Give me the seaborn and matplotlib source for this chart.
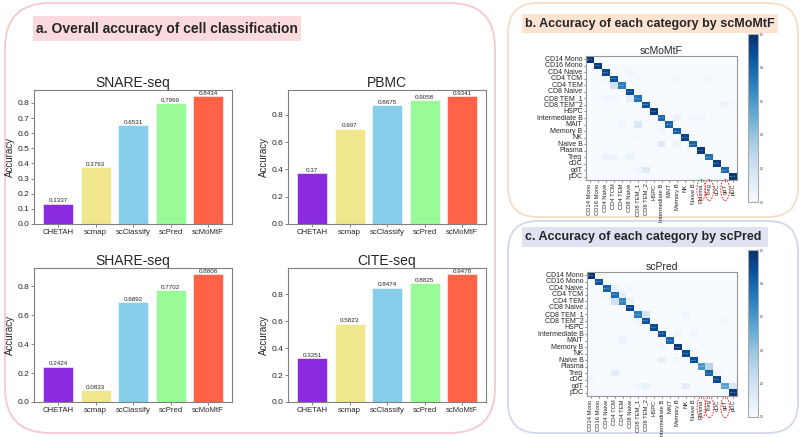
import matplotlib
matplotlib.use("Agg")
import matplotlib.pyplot as plt
import matplotlib.transforms as mtransforms
from matplotlib.patches import FancyBboxPatch, Rectangle, Ellipse
import numpy as np
import seaborn as sns

# Bar chart data (panel a)
METHODS = ["CHETAH", "scmap", "scClassify", "scPred", "scMoMtF"]
BAR_COLORS = ["#8a2be2", "#f0e68c", "#87ceeb", "#98fb98", "#ff6347"]
snare_acc = [0.1337, 0.3763, 0.6531, 0.7999, 0.8434]
pbmc_acc = [0.37, 0.697, 0.8675, 0.9058, 0.9341]
share_acc = [0.2424, 0.0833, 0.6892, 0.7702, 0.8806]
cite_acc = [0.3251, 0.5823, 0.8474, 0.8825, 0.9478]

# Confusion matrices (panels b, c) - estimated from colour
CELL_TYPES = ["CD14 Mono", "CD16 Mono", "CD4 Naive", "CD4 TCM", "CD4 TEM", "CD8 Naive",
              "CD8 TEM_1", "CD8 TEM_2", "HSPC", "Intermediate B", "MAIT", "Memory B",
              "NK", "Naive B", "Plasma", "Treg", "cDC", "gdT", "pDC"]
momtf_diag = [0.97, 0.95, 0.90, 0.86, 0.70, 0.88, 0.74, 0.85, 0.95, 0.78,
              0.80, 0.82, 0.92, 0.80, 0.96, 0.75, 0.93, 0.78, 0.97]
momtf_off = [(2, 5, 0.05), (3, 2, 0.04), (3, 6, 0.02), (3, 11, 0.03), (3, 15, 0.03),
             (4, 3, 0.20), (6, 2, 0.03), (6, 3, 0.03), (6, 5, 0.10), (7, 17, 0.06),
             (9, 11, 0.06), (9, 13, 0.03), (9, 14, 0.03), (10, 4, 0.04), (10, 6, 0.15),
             (11, 9, 0.03), (12, 6, 0.02), (13, 9, 0.12), (13, 11, 0.05),
             (15, 2, 0.06), (15, 3, 0.06), (15, 5, 0.07), (17, 6, 0.03), (17, 7, 0.12)]
scpred_diag = [0.97, 0.86, 0.80, 0.76, 0.68, 0.90, 0.70, 0.85, 0.90, 0.88,
               0.80, 0.95, 0.90, 0.88, 0.60, 0.80, 0.90, 0.55, 0.95]
scpred_off = [(2, 3, 0.08), (2, 5, 0.03), (3, 2, 0.04), (3, 4, 0.10), (4, 3, 0.20),
              (4, 5, 0.08), (5, 6, 0.03), (6, 7, 0.18), (6, 12, 0.04), (7, 6, 0.05),
              (7, 17, 0.03), (9, 11, 0.05), (9, 13, 0.05), (10, 4, 0.06), (11, 9, 0.03),
              (12, 13, 0.03), (13, 9, 0.08), (13, 11, 0.04), (14, 15, 0.30),
              (15, 3, 0.10), (15, 16, 0.05), (16, 0, 0.03), (17, 6, 0.04),
              (17, 7, 0.08), (17, 12, 0.10), (17, 18, 0.15)]
CIRCLED = ["Plasma", "Treg", "gdT"]

W, H = 800, 437

sns.set_style("ticks")
plt.rcParams["font.family"] = ["Liberation Sans", "DejaVu Sans"]

fig = plt.figure(figsize=(W / 100, H / 100), dpi=100)


def rect(l, t, r, b):
    """Pixel box (top-left origin) -> figure fraction"""
    return [l / W, 1 - b / H, (r - l) / W, (b - t) / H]


def box(l, t, r, b, ec, rad, lw=1.3):
    p = FancyBboxPatch((l / 100, (H - b) / 100), (r - l) / 100, (b - t) / 100,
                       boxstyle=f"round,pad=0,rounding_size={rad / 100}",
                       transform=fig.dpi_scale_trans, fill=False, ec=ec, lw=lw, zorder=-2)
    fig.add_artist(p)


def title_box(l, t, r, b, fc, text, size):
    fig.add_artist(Rectangle((l / 100, (H - b) / 100), (r - l) / 100, (b - t) / 100,
                             transform=fig.dpi_scale_trans, fc=fc, ec="none", zorder=-1))
    fig.text((l + 3) / 100, (H - (t + b) / 2) / 100, text, transform=fig.dpi_scale_trans,
             fontsize=size, fontweight="bold", va="center", ha="left")


# Panel frames
box(5, 3, 495, 433, "#f6c8ce", 45)
box(508, 3, 798, 217, "#f9dcc6", 30)
box(508, 221, 798, 433, "#d3d7ee", 30)
title_box(33, 16, 301, 41, "#fadadd", "a. Overall accuracy of cell classification", 10)
title_box(522, 14, 778, 33, "#fce3d2", "b. Accuracy of each category by scMoMtF", 9)
title_box(522, 227, 768, 247, "#dfe2f3", "c. Accuracy of each category by scPred", 9)


def bar_panel(pos, values, title, yticks):
    ax = fig.add_axes(rect(*pos))
    sns.barplot(x=METHODS, y=values, hue=METHODS, palette=BAR_COLORS, legend=False,
                saturation=1, width=0.8, edgecolor="white", linewidth=0.4, ax=ax)
    for cont, v in zip(ax.containers, values):
        ax.bar_label(cont, labels=[str(v)], fontsize=4.5, padding=0.3)
    ax.set_xlim(-0.64, 4.64)
    ax.set_ylim(0, max(values) * 1.05)
    ax.set_yticks(yticks)
    ax.set_title(title, fontsize=10, pad=2)
    ax.set_ylabel("Accuracy", fontsize=7, labelpad=2)
    ax.tick_params(axis="y", labelsize=6, length=2, width=0.5, pad=1.5, color="#555555")
    ax.tick_params(axis="x", labelsize=5.6, length=2, width=0.5, pad=1.5, color="#555555")
    for s in ax.spines.values():
        s.set_visible(True)
        s.set_color("#808080")
        s.set_linewidth(0.8)
    return ax


bar_panel((34, 90, 232, 224), snare_acc, "SNARE-seq", np.arange(0, 0.81, 0.1))
bar_panel((288, 90, 486, 224), pbmc_acc, "PBMC", np.arange(0, 0.81, 0.2))
bar_panel((34, 268, 232, 402), share_acc, "SHARE-seq", np.arange(0, 0.81, 0.2))
bar_panel((288, 268, 486, 402), cite_acc, "CITE-seq", np.arange(0, 0.81, 0.2))


def build_matrix(diag, off):
    m = np.zeros((len(CELL_TYPES), len(CELL_TYPES)))
    np.fill_diagonal(m, diag)
    for r, c, v in off:
        m[r, c] = v
    return m


def heat_panel(pos, cpos, diag, off, title, ell_y):
    ax = fig.add_axes(rect(*pos))
    cax = fig.add_axes(rect(*cpos))
    m = build_matrix(diag, off)
    annot = np.full(m.shape, "", dtype=object)
    for i, v in enumerate(diag):
        annot[i, i] = f"{v * 100:.2f}%"
    sns.heatmap(m, cmap="Blues", vmin=0, vmax=1, ax=ax, cbar_ax=cax,
                xticklabels=CELL_TYPES, yticklabels=CELL_TYPES,
                annot=annot, fmt="", annot_kws={"fontsize": 1.3})
    ax.set_title(title, fontsize=7.5, pad=1)
    ax.tick_params(axis="both", length=1.5, width=0.4, pad=1)
    ax.set_xticklabels(CELL_TYPES, rotation=90, fontsize=4.2)
    ax.set_yticklabels(CELL_TYPES, rotation=0, fontsize=5)
    for s in ax.spines.values():
        s.set_visible(True)
        s.set_color("#999999")
        s.set_linewidth(0.8)
    cbar = ax.collections[0].colorbar
    cbar.ax.tick_params(labelsize=2, length=1, width=0.3, pad=0.5)
    cbar.outline.set_visible(True)
    cbar.outline.set_edgecolor("#aaaaaa")
    cbar.outline.set_linewidth(0.8)
    trans = mtransforms.blended_transform_factory(ax.transData, ax.transAxes)
    for name in CIRCLED:
        idx = CELL_TYPES.index(name)
        ax.add_patch(Ellipse((idx + 0.5, ell_y), 1.1, 0.17, transform=trans, fill=False,
                             ec="red", ls=(0, (2, 1.5)), lw=0.6, clip_on=False))


heat_panel((586, 56, 737, 180), (748, 34, 758, 202), momtf_diag, momtf_off, "scMoMtF", -0.08)
heat_panel((587, 272, 737, 396), (748, 250, 758, 417), scpred_diag, scpred_off, "scPred", -0.09)

fig.savefig("out.png", dpi=100)
